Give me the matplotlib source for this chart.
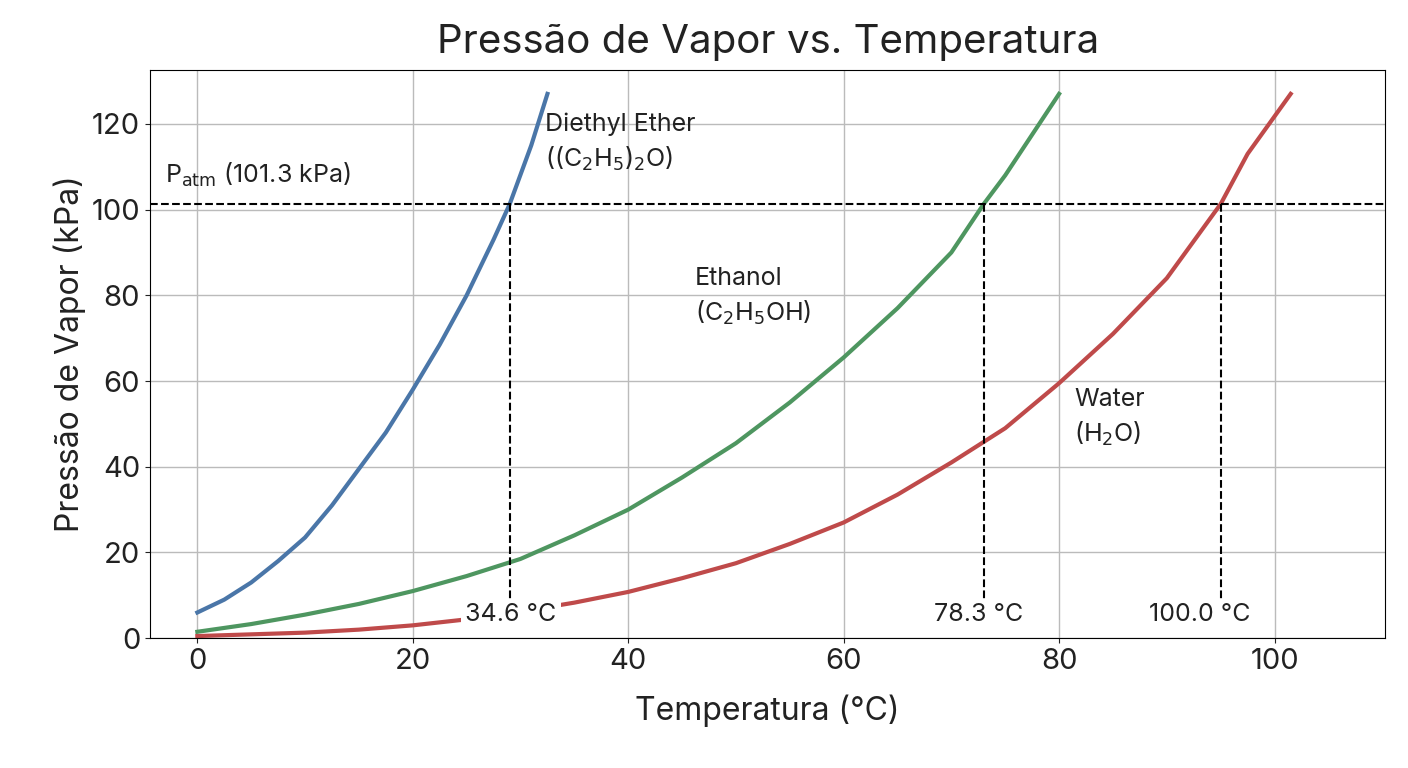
import matplotlib.pyplot as plt

ether_t = [0, 2.5, 5, 7.5, 10, 12.5, 15, 17.5, 20, 22.5, 25, 27.5, 29, 31, 32.5]
ether_p = [6, 9, 13, 18, 23.5, 31, 39.5, 48, 58, 68.5, 80, 93, 101.3, 115, 127]
ethanol_t = [0, 5, 10, 15, 20, 25, 30, 35, 40, 45, 50, 55, 60, 65, 70, 73, 75, 80]
ethanol_p = [1.5, 3.3, 5.5, 8, 11, 14.5, 18.5, 24, 30, 37.5, 45.5, 55, 65.5, 77, 90, 101.3, 108, 127]
water_t = [0, 5, 10, 15, 20, 25, 30, 35, 40, 45, 50, 55, 60, 65, 70, 75, 80, 85, 90, 95, 97.5, 101.5]
water_p = [0.5, 0.9, 1.3, 2, 3, 4.4, 6.2, 8.3, 10.8, 14, 17.5, 22, 27, 33.5, 41, 49, 59.5, 71, 84, 101.3, 113, 127]
patm = 101.3
bp_x = [29, 73, 95]
bp_label_x = [29.1, 72.5, 93.1]
bp_labels = ['34.6 °C', '78.3 °C', '100.0 °C']

plt.rcParams['font.family'] = ['Inter', 'DejaVu Sans']
fig = plt.figure(figsize=(14.08, 7.68), dpi=100)
ax = fig.add_axes([0.1065, 0.169, 0.8775, 0.74])

ax.plot(ether_t, ether_p, color='#4a76a8', lw=3)
ax.plot(ethanol_t, ethanol_p, color='#4e9660', lw=3)
ax.plot(water_t, water_p, color='#bf4a4a', lw=3)
ax.axhline(patm, color='black', ls='--', lw=1.5)
for x, lx, lab in zip(bp_x, bp_label_x, bp_labels):
    ax.plot([x, x], [patm, 8], color='black', ls='--', lw=1.5)
    ax.text(lx, 5.5, lab, ha='center', va='center', fontsize=18, color='#222222',
            bbox=dict(facecolor='white', edgecolor='none', pad=3), zorder=5)

ax.text(-3, 108, r'P$_{\rm atm}$ (101.3 kPa)', fontsize=18, va='center', color='#222222')
ax.text(32.3, 115.6, 'Diethyl Ether\n((C$_2$H$_5$)$_2$O)', fontsize=18, va='center',
        linespacing=1.4, color='#222222')
ax.text(46.2, 79.6, 'Ethanol\n(C$_2$H$_5$OH)', fontsize=18, va='center',
        linespacing=1.4, color='#222222')
ax.text(81.4, 51.4, 'Water\n(H$_2$O)', fontsize=18, va='center',
        linespacing=1.4, color='#222222')

ax.set_xlim(-4.4, 110.3)
ax.set_ylim(0, 132.6)
ax.set_xticks([0, 20, 40, 60, 80, 100])
ax.set_yticks([0, 20, 40, 60, 80, 100, 120])
ax.tick_params(labelsize=21, colors='#222222')
ax.grid(color='#bbbbbb', lw=1)
ax.set_axisbelow(True)
ax.set_xlabel('Temperatura (°C)', fontsize=23, labelpad=14, color='#222222')
ax.set_ylabel('Pressão de Vapor (kPa)', fontsize=23, color='#222222')
ax.set_title('Pressão de Vapor vs. Temperatura', fontsize=29, pad=12, color='#222222')
fig.savefig('out.png')
